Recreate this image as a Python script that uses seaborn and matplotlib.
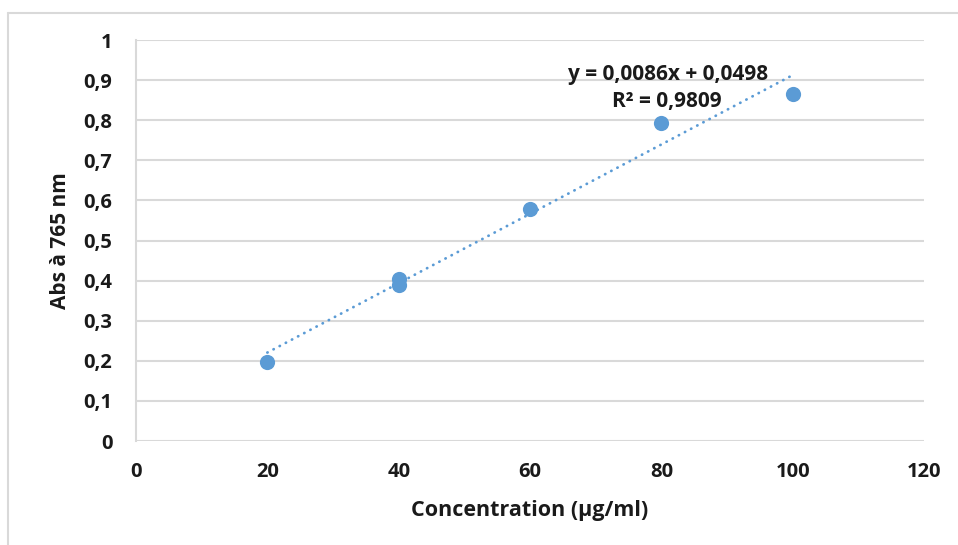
import matplotlib
matplotlib.use("Agg")
import matplotlib.pyplot as plt
from matplotlib.lines import Line2D
from matplotlib.ticker import FuncFormatter
import numpy as np
import pandas as pd
import seaborn as sns

concentration = [20, 40, 40, 60, 80, 100]
absorbance = [0.197, 0.404, 0.389, 0.578, 0.793, 0.865]

equation_label = "y = 0,0086x + 0,0498"
r2_label = "R² = 0,9809"

x_ticks = [0, 20, 40, 60, 80, 100, 120]
y_ticks = [0, 0.1, 0.2, 0.3, 0.4, 0.5, 0.6, 0.7, 0.8, 0.9, 1]

blue = "#5B9BD5"
grey = "#D9D9D9"
ink = "#1a1a1a"

sns.set_theme(style="white")
plt.rcParams["font.family"] = ["Open Sans", "DejaVu Sans"]

df = pd.DataFrame({"conc": concentration, "abs": absorbance})

fig = plt.figure(figsize=(9.58, 5.45), dpi=100)
ax = fig.add_axes([0.142, 0.1908, 0.8225, 0.7358])

sns.regplot(data=df, x="conc", y="abs", ax=ax, ci=None, truncate=True,
            scatter_kws={"s": 120, "color": blue, "alpha": 1, "linewidths": 0, "zorder": 4},
            line_kws={"color": blue, "lw": 2.0, "linestyle": (0, (0.1, 2.4)),
                      "dash_capstyle": "round", "zorder": 3})

ax.set_xlim(0, 120)
ax.set_ylim(0, 1)
ax.set_xticks(x_ticks)
ax.set_yticks(y_ticks)

def comma_fmt(v, pos):
    s = f"{v:g}"
    return s.replace(".", ",")

ax.yaxis.set_major_formatter(FuncFormatter(comma_fmt))
ax.xaxis.set_major_formatter(FuncFormatter(comma_fmt))

ax.grid(axis="y", color=grey, lw=1.5)
ax.grid(axis="x", visible=False)
ax.set_axisbelow(True)
for side in ["top", "right", "bottom"]:
    ax.spines[side].set_visible(False)
ax.spines["left"].set_color(grey)
ax.spines["left"].set_linewidth(1.5)

ax.tick_params(axis="both", length=0, labelsize=14.5, labelcolor=ink)
ax.tick_params(axis="y", pad=17)
ax.tick_params(axis="x", pad=15)
for lab in ax.get_xticklabels() + ax.get_yticklabels():
    lab.set_fontweight("bold")

ax.set_xlabel("Concentration (µg/ml)", fontsize=15.5, fontweight="bold",
              color=ink, labelpad=13)
ax.set_ylabel("Abs à 765 nm", fontsize=15, fontweight="bold",
              color=ink, labelpad=9)

ax.text(81.0, 0.915, equation_label, ha="center", va="center",
        fontsize=15, fontweight="bold", color=ink)
ax.text(80.9, 0.846, r2_label, ha="center", va="center",
        fontsize=15, fontweight="bold", color=ink)

# cadre du graphique (haut et gauche)
fig.add_artist(Line2D([8 / 958, 1], [1 - 13 / 545, 1 - 13 / 545],
                      transform=fig.transFigure, color=grey, lw=1.5))
fig.add_artist(Line2D([8 / 958, 8 / 958], [0, 1 - 13 / 545],
                      transform=fig.transFigure, color=grey, lw=1.5))

fig.savefig("out.png", dpi=100)
